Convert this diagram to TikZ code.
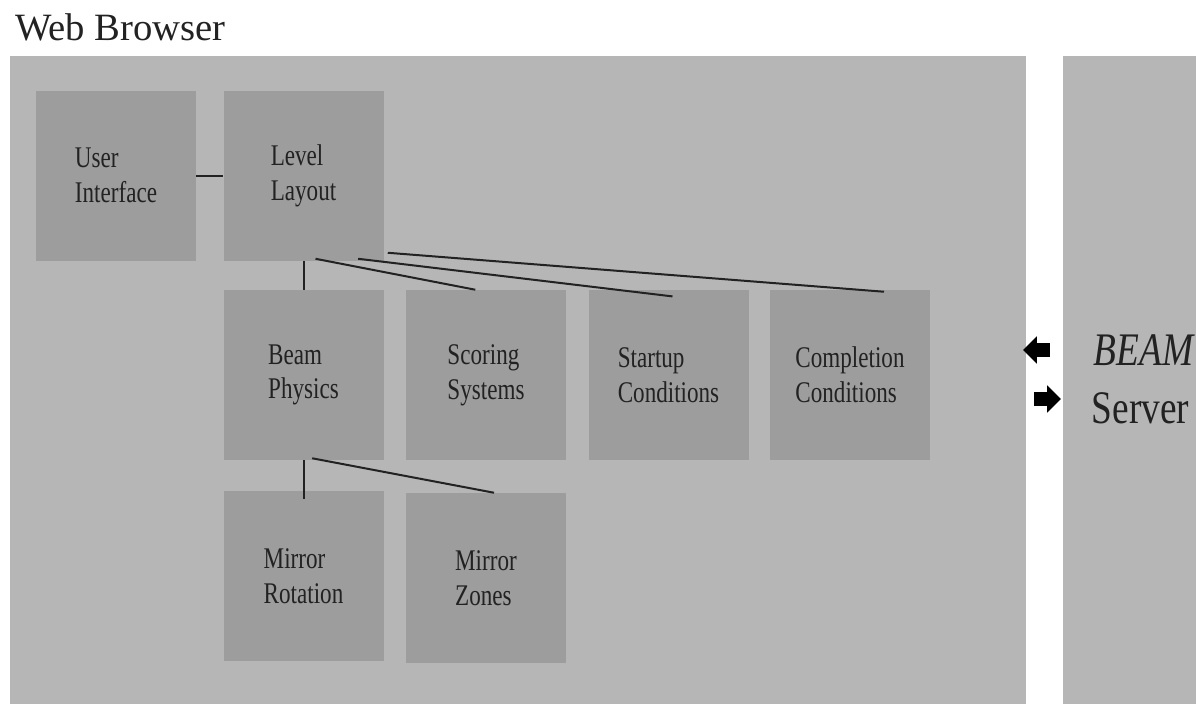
\documentclass[tikz,border=0pt]{standalone}
\usepackage{fontspec}
\setmainfont{Liberation Serif}
\newfontfamily\boxfont[FakeStretch=0.77]{Liberation Serif}
\newfontfamily\sidefont[FakeStretch=0.8]{Liberation Serif}
\usetikzlibrary{shapes.arrows}
\definecolor{panelgray}{RGB}{182,182,182}
\definecolor{boxgray}{RGB}{157,157,157}
\definecolor{inkgray}{RGB}{34,34,34}

\begin{document}
\begin{tikzpicture}[x=0.75pt, y=-0.75pt,
  box/.style={fill=boxgray, minimum width=120pt, minimum height=127.5pt, inner sep=0pt, align=left, text=inkgray, font=\boxfont\fontsize{22.5}{26}\selectfont},
  link/.style={draw=inkgray, line width=1.5pt},
  blockarrow/.style={single arrow, fill=black, inner xsep=0pt, inner ysep=5pt, minimum height=20pt, single arrow head extend=5pt},
  sidetext/.style={anchor=base west, text=inkgray, font=\sidefont\fontsize{35}{43}\selectfont}]
\useasboundingbox (0,0) rectangle (1196,704);
% panels
\fill[panelgray] (10,56) rectangle (1026,704);
\fill[panelgray] (1063,56) rectangle (1196,704);
\node[anchor=base west, inner sep=0pt, text=inkgray, font=\fontsize{29}{35}\selectfont] (title) at (15,40) {Web Browser};
% components
\node[box] (ui) at (116,175.5) {User\\Interface};
\node[box] (layout) at (303.5,175.5) {Level\\Layout};
\node[box] (beam) at (303.5,375) {Beam\\Physics};
\node[box] (score) at (486,375) {Scoring\\Systems};
\node[box] (start) at (668.5,375) {Startup\\Conditions};
\node[box] (finish) at (850,375) {Completion\\Conditions};
\node[box] (mrot) at (303.5,576) {Mirror\\Rotation};
\node[box] (mzone) at (486,578) {Mirror\\Zones};
% links
\draw[link] (ui) -- (layout);
\draw[link] (layout) -- (beam);
\draw[link] ([xshift=9pt,yshift=1.5pt]layout.south) -- ([xshift=-8pt]score.north);
\draw[link] ([xshift=41pt,yshift=1.5pt]layout.south) -- ([xshift=3pt,yshift=-5pt]start.north);
\draw[link] ([xshift=3pt,yshift=6pt]layout.south east) -- ([xshift=25.5pt,yshift=-1.5pt]finish.north);
\draw[link] (beam) -- ([yshift=-6pt]mrot.north);
\draw[link] ([xshift=6.5pt,yshift=1.5pt]beam.south) -- ([xshift=6pt]mzone.north);
% server side
\node[blockarrow, shape border rotate=180] (toclient) at (1040,350) {};
\node[blockarrow] (toserver) at (1044,399) {};
\node[sidetext] (beamname) at (1089,365) {\itshape BEAM};
\node[sidetext] (server) at (1087,423) {Server};
\end{tikzpicture}
\end{document}
